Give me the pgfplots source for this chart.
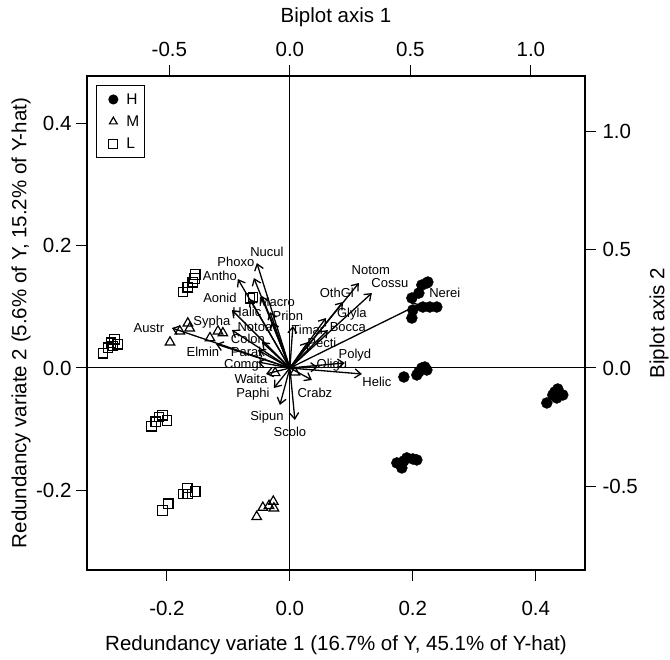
\documentclass[border=0pt]{standalone}
\usepackage{pgfplots}
\pgfplotsset{compat=1.18}
\usetikzlibrary{arrows.meta}
\usepackage{fontspec}
\setmainfont{Liberation Sans}
\newcommand{\tfont}{\fontsize{20.5}{24}\selectfont}
\newcommand{\lfont}{\fontsize{13}{15}\selectfont}
\newcommand{\gfont}{\fontsize{15.5}{17}\selectfont}
\begin{document}
\begin{tikzpicture}[x=1pt,y=1pt]
\useasboundingbox (0,0) rectangle (670,660);
\begin{axis}[
  at={(87pt,90pt)}, anchor=south west,
  width=498pt, height=494pt, scale only axis,
  xmin=-0.330, xmax=0.480, ymin=-0.330, ymax=0.477,
  xtick={-0.2,0,0.2,0.4}, xticklabels={-0.2,0.0,0.2,0.4},
  ytick={-0.2,0,0.2,0.4}, yticklabels={-0.2,0.0,0.2,0.4},
  xtick pos=bottom, ytick pos=left,
  tick align=outside, major tick length=11pt,
  every tick/.style={black, line width=1pt},
  axis line style={line width=1.3pt},
  ticklabel style={font=\tfont},
  xticklabel style={anchor=center, yshift=-27pt},
  yticklabel style={anchor=east, xshift=-1pt},
  xlabel={Redundancy variate 1 (16.7\% of Y, 45.1\% of Y-hat)},
  ylabel={Redundancy variate 2 (5.6\% of Y, 15.2\% of Y-hat)},
  every axis x label/.style={at={(axis description cs:0.5,0)}, anchor=center, yshift=-75pt, font=\tfont},
  every axis y label/.style={at={(axis description cs:0,0.5)}, xshift=-66pt, anchor=center, rotate=90, font=\tfont},
  legend style={at={(axis description cs:0.018,0.982)}, anchor=north west, draw=black, line width=1pt, font=\gfont, row sep=6pt, inner xsep=3pt, inner ysep=6pt},
  legend image code/.code={\path (-0.12cm,0) (0.72cm,0); \draw[#1, mark size=4.5pt] plot coordinates {(0.35cm,0cm)};},
  legend cell align=left,
  clip=false,
]
% zero lines
\addplot[forget plot, black, line width=1pt] coordinates {(-0.330,0) (0.480,0)};
\addplot[forget plot, black, line width=1pt] coordinates {(0,-0.330) (0,0.477)};

% H
\addplot[only marks, mark=*, mark size=5.5pt, mark options={fill=black, draw=black}] coordinates {
(0.2244,0.1404) (0.2146,0.1355) (0.2228,0.1388) (0.2098,0.1224) (0.1984,0.1143)
(0.2000,0.0947) (0.1984,0.0816) (0.2163,0.0996) (0.2276,0.0996) (0.2390,0.0996)
(0.1854,-0.0147) (0.2065,-0.0114) (0.2098,-0.0065) (0.2146,0.0000) (0.2195,0.0016) (0.2228,-0.0033)
(0.4179,-0.0571) (0.4276,-0.0441) (0.4358,-0.0343) (0.4439,-0.0441) (0.4341,-0.0490) (0.4309,-0.0392)
(0.1740,-0.1551) (0.1821,-0.1633) (0.1902,-0.1469) (0.2000,-0.1486) (0.2065,-0.1502) (0.1854,-0.1518)
};
\addlegendentry{H}
% M
\addplot[only marks, mark=triangle, mark size=5.5pt, mark options={draw=black, line width=1.2pt}] coordinates {
(-0.195,0.042) (-0.179,0.060) (-0.166,0.073) (-0.163,0.065) (-0.130,0.049) (-0.117,0.060) (-0.109,0.057)
(-0.054,-0.243) (-0.044,-0.228) (-0.034,-0.225) (-0.027,-0.218) (-0.026,-0.229)
(-0.024,-0.008) (0.008,-0.007)
};
\addlegendentry{M}
% L
\addplot[only marks, mark=square, mark size=4.8pt, mark options={draw=black, line width=1.2pt}] coordinates {
(-0.304,0.024) (-0.296,0.033) (-0.291,0.041) (-0.285,0.047) (-0.280,0.039) (-0.288,0.036)
(-0.174,0.124) (-0.166,0.132) (-0.158,0.140) (-0.154,0.153) (-0.155,0.146)
(-0.065,0.114) (-0.060,0.116)
(-0.225,-0.095) (-0.218,-0.088) (-0.213,-0.080) (-0.207,-0.077) (-0.200,-0.086)
(-0.207,-0.233) (-0.198,-0.222) (-0.174,-0.206) (-0.167,-0.196) (-0.166,-0.206) (-0.154,-0.202)
};
\addlegendentry{L}

% arrows
\addplot[forget plot, black, line width=1.3pt, -{Straight Barb[length=6pt,width=9pt,line width=1.3pt]},
  quiver={u=\thisrow{u}, v=\thisrow{v}}] table {
x y u v
0 0 -0.0537 0.1714
0 0 -0.0585 0.1469
0 0 -0.0846 0.1453
0 0 -0.0650 0.1127
0 0 -0.0455 0.1176
0 0 -0.0943 0.0947
0 0 -0.0325 0.0914
0 0 -0.0943 0.0620
0 0 -0.1919 0.0653
0 0 -0.1203 0.0392
0 0 -0.0293 0.0751
0 0 -0.0455 0.0424
0 0 -0.0520 0.0294
0 0 -0.0520 0.0098
0 0 -0.0390 -0.0098
0 0 -0.0260 -0.0327
0 0 -0.0163 -0.0604
0 0 0.0081 -0.0849
0 0 0.0358 -0.0196
0 0 0.1171 -0.0098
0 0 0.0894 0.0082
0 0 0.0455 0.0016
0 0 0.0293 0.0424
0 0 0.0049 0.0686
0 0 0.0618 0.0620
0 0 0.0585 0.0816
0 0 0.0862 0.1078
0 0 0.1122 0.1388
0 0 0.1333 0.1224
0 0 0.2114 0.1045
};

% labels
\addplot[forget plot, only marks, mark=none, nodes near coords, point meta=explicit symbolic,
  every node near coord/.style={anchor=center, font=\lfont, inner sep=0pt}] table[meta=label] {
x y label
-0.0374 0.1894 Nucul
-0.0878 0.1731 Phoxo
-0.1138 0.1502 Antho
-0.1138 0.1143 Aonid
-0.0211 0.1078 Macro
-0.0700 0.0914 Halic
-0.0033 0.0849 Prion
-0.1268 0.0751 Sypha
-0.2293 0.0653 Austr
-0.1415 0.0261 Elmin
-0.0569 0.0665 Notoa
-0.0683 0.0473 Colon
-0.0683 0.0270 Parak
-0.0764 0.0050 Comgl
-0.0634 -0.0170 Waita
-0.0602 -0.0424 Paphi
-0.0374 -0.0800 Sipun
0.0000 -0.1045 Scolo
0.0407 -0.0408 Crabz
0.1415 -0.0229 Helic
0.1057 0.0212 Polyd
0.0683 0.0049 Oligu
0.0520 0.0408 Pecti
0.0293 0.0620 Timar
0.0943 0.0669 Bocca
0.1008 0.0882 Glyla
0.0764 0.1224 OthGl
0.1317 0.1600 Notom
0.1626 0.1388 Cossu
0.2520 0.1224 Nerei
};
\end{axis}

\begin{axis}[
  at={(87pt,90pt)}, anchor=south west,
  width=498pt, height=494pt, scale only axis,
  xmin=-0.8418, xmax=1.2245, ymin=-0.8549, ymax=1.2358,
  xtick={-0.5,0,0.5,1}, xticklabels={-0.5,0.0,0.5,1.0},
  ytick={-0.5,0,0.5,1}, yticklabels={-0.5,0.0,0.5,1.0},
  xtick pos=top, ytick pos=right,
  tick align=outside, major tick length=11pt,
  every tick/.style={black, line width=1pt},
  axis line style={draw=none},
  ticklabel style={font=\tfont},
  xticklabel style={anchor=center, yshift=16pt},
  yticklabel style={anchor=west, xshift=3pt},
  xlabel={Biplot axis 1},
  ylabel={Biplot axis 2},
  every axis x label/.style={at={(axis description cs:0.5,1)}, anchor=center, yshift=59pt, font=\tfont},
  every axis y label/.style={at={(axis description cs:1,0.5)}, xshift=74pt, anchor=center, rotate=90, font=\tfont},
]
\addplot[draw=none, forget plot] coordinates {(0,0)};
\end{axis}
\end{tikzpicture}
\end{document}
